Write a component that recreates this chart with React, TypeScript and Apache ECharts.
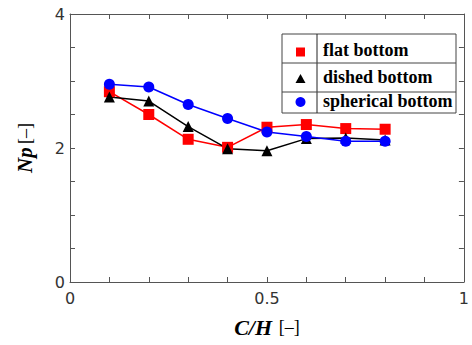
import React, { useEffect, useRef } from "react";
import * as echarts from "echarts";

const xValues = [0.1, 0.2, 0.3, 0.4, 0.5, 0.6, 0.7, 0.8];
const flatBottom = [2.84, 2.5, 2.13, 2.01, 2.31, 2.35, 2.29, 2.28];
const dishedBottom = [2.76, 2.7, 2.32, 1.99, 1.96, 2.14, 2.15, 2.12];
const sphericalBottom = [2.95, 2.91, 2.65, 2.44, 2.24, 2.17, 2.1, 2.1];
const xTickLabels = [0, 0.5, 1];
const yTickLabels = [0, 2, 4];
const seriesNames = ["flat bottom", "dished bottom", "spherical bottom"];

const near = (v: number, list: number[]) => list.some((t) => Math.abs(v - t) < 1e-6);
const SERIF = "'Liberation Serif', 'Times New Roman', Times, serif";

export default function App() {
  const ref = useRef<HTMLDivElement>(null);
  useEffect(() => {
    if (!ref.current) return;
    const chart = echarts.init(ref.current, undefined, { renderer: "svg" });
    const frame = "#555";
    const tickFont = { fontFamily: "DejaVu Sans", fontSize: 16, color: "#333" };
    const pairs = (ys: number[]) => xValues.map((x, i) => [x, ys[i]]);
    const hiddenAxisCommon = {
      axisLine: { show: true, onZero: false, lineStyle: { color: frame, width: 1 } },
      axisTick: { show: true, inside: true, length: 5, lineStyle: { color: frame } },
      axisLabel: { show: false },
      splitLine: { show: false },
    };
    chart.setOption({
      animation: false,
      backgroundColor: "#fff",
      grid: { left: 70, top: 14, right: 5, bottom: 63, containLabel: false },
      xAxis: [
        {
          type: "value",
          min: 0,
          max: 1,
          interval: 0.1,
          position: "bottom",
          axisLine: { show: true, onZero: false, lineStyle: { color: frame, width: 1 } },
          axisTick: { show: true, inside: true, length: 5, lineStyle: { color: frame } },
          splitLine: { show: false },
          axisLabel: {
            ...tickFont,
            margin: 8,
            showMaxLabel: true,
            showMinLabel: true,
            formatter: (v: number) => (near(v, xTickLabels) ? String(Math.round(v * 10) / 10) : ""),
          },
          name: "{a|C/H}  {b|[–]}",
          nameLocation: "middle",
          nameGap: 34,
          nameTextStyle: {
            rich: {
              a: { fontFamily: SERIF, fontWeight: "bold", fontStyle: "italic", fontSize: 22, color: "#000" },
              b: { fontFamily: SERIF, fontSize: 18, color: "#000" },
            },
          },
        },
        { type: "value", min: 0, max: 1, interval: 0.1, position: "top", ...hiddenAxisCommon },
      ],
      yAxis: [
        {
          type: "value",
          min: 0,
          max: 4,
          interval: 0.5,
          position: "left",
          axisLine: { show: true, onZero: false, lineStyle: { color: frame, width: 1 } },
          axisTick: { show: true, inside: true, length: 5, lineStyle: { color: frame } },
          splitLine: { show: false },
          axisLabel: {
            ...tickFont,
            margin: 5,
            showMaxLabel: true,
            showMinLabel: true,
            formatter: (v: number) => (near(v, yTickLabels) ? String(v) : ""),
          },
          name: "{a|Np} {b|[–]}",
          nameLocation: "middle",
          nameRotate: 90,
          nameGap: 35,
          nameTextStyle: {
            rich: {
              a: { fontFamily: SERIF, fontWeight: "bold", fontStyle: "italic", fontSize: 21, color: "#000" },
              b: { fontFamily: SERIF, fontSize: 18, color: "#000" },
            },
          },
        },
        { type: "value", min: 0, max: 4, interval: 0.5, position: "right", ...hiddenAxisCommon },
      ],
      series: [
        {
          name: seriesNames[0],
          type: "line",
          data: pairs(flatBottom),
          symbol: "rect",
          symbolSize: 11,
          lineStyle: { color: "#ff0000", width: 1.5 },
          itemStyle: { color: "#ff0000" },
        },
        {
          name: seriesNames[1],
          type: "line",
          data: pairs(dishedBottom),
          symbol: "triangle",
          symbolSize: 11,
          lineStyle: { color: "#000000", width: 1.5 },
          itemStyle: { color: "#000000" },
        },
        {
          name: seriesNames[2],
          type: "line",
          data: pairs(sphericalBottom),
          symbol: "circle",
          symbolSize: 11,
          lineStyle: { color: "#0000ff", width: 1.5 },
          itemStyle: { color: "#0000ff" },
        },
      ],
      graphic: [
        { type: "rect", shape: { x: 282, y: 34, width: 174, height: 79 }, style: { fill: "#fff", stroke: "#444", lineWidth: 1 }, z: 10 },
        { type: "line", shape: { x1: 317, y1: 34, x2: 317, y2: 113 }, style: { stroke: "#222", lineWidth: 1 }, z: 11 },
        { type: "line", shape: { x1: 282, y1: 63, x2: 456, y2: 63 }, style: { stroke: "#444", lineWidth: 1 }, z: 11 },
        { type: "line", shape: { x1: 282, y1: 92, x2: 456, y2: 92 }, style: { stroke: "#444", lineWidth: 1 }, z: 11 },
        { type: "rect", shape: { x: 296, y: 47.5, width: 9, height: 9 }, style: { fill: "#ff0000" }, z: 11 },
        { type: "polygon", shape: { points: [[300.5, 74], [305.5, 83], [295.5, 83]] }, style: { fill: "#000" }, z: 11 },
        { type: "circle", shape: { cx: 300.5, cy: 102, r: 5 }, style: { fill: "#0000ff" }, z: 11 },
        { type: "text", x: 323, y: 50, style: { text: seriesNames[0], fontFamily: SERIF, fontWeight: "bold", fontSize: 18, fill: "#000", verticalAlign: "middle" }, z: 11 },
        { type: "text", x: 323, y: 77, style: { text: seriesNames[1], fontFamily: SERIF, fontWeight: "bold", fontSize: 18, fill: "#000", verticalAlign: "middle" }, z: 11 },
        { type: "text", x: 323, y: 101, style: { text: seriesNames[2], fontFamily: SERIF, fontWeight: "bold", fontSize: 18, fill: "#000", verticalAlign: "middle" }, z: 11 },
      ],
    });
    return () => chart.dispose();
  }, []);
  return <div ref={ref} style={{ width: 472, height: 345, position: "absolute", left: 0, top: 0 }} />;
}
